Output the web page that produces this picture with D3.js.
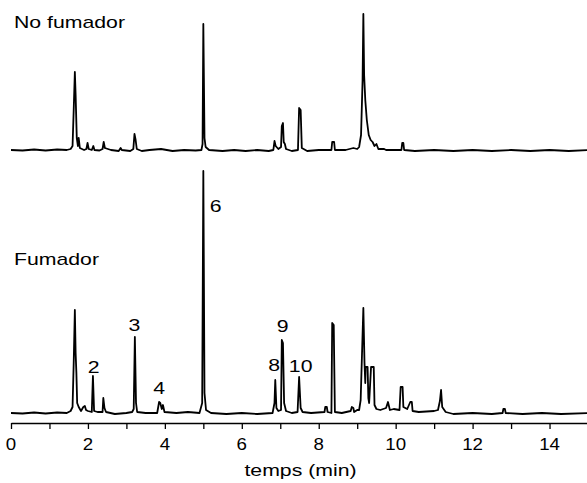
<!DOCTYPE html>
<html>
<head>
<meta charset="utf-8">
<script src="https://cdn.jsdelivr.net/npm/d3@7"></script>
<style>
  html, body { margin: 0; padding: 0; background: #fff; }
  text { font-family: "Liberation Sans", Arial, sans-serif; fill: #000; }
</style>
</head>
<body>
<svg id="chart" width="587" height="483"></svg>
<script>
// Time (min) and detector response (arbitrary units)
const noFumadorTrace = [
  [0,0],[0.3,-0.5],[0.6,0.5],[0.9,-0.5],[1.2,0.5],[1.45,0],[1.55,1],[1.6,4],[1.63,40],[1.66,78],[1.68,55],
  [1.71,12],[1.74,4],[1.76,12],[1.79,2],[1.9,0],[1.96,1],[1.99,7],[2.02,1],[2.1,0],[2.14,4],[2.17,0],
  [2.3,-0.5],[2.38,1],[2.41,8],[2.44,2],[2.6,0],[2.8,-1],[2.85,2],[2.88,0],[3.1,-1],[3.18,1],[3.21,16],
  [3.24,10],[3.27,1],[3.4,-1],[3.6,0],[3.9,1],[4.2,-1],[4.5,0],[4.8,-0.5],[4.95,0],[4.98,6],[5.0,126],
  [5.03,12],[5.06,3],[5.15,0],[5.5,-1],[5.8,0],[6.1,-1],[6.4,0],[6.7,-1],[6.82,0],[6.85,9],[6.88,4],
  [6.95,1],[7.02,3],[7.04,24],[7.07,27],[7.09,8],[7.12,6],[7.15,1],[7.3,-1],[7.46,0],[7.49,42],[7.53,40],
  [7.56,2],[7.7,-1],[8.0,0],[8.33,0],[8.35,8],[8.4,8],[8.42,0],[8.7,0],[8.9,2],[9.0,1],[9.05,3],[9.1,15],
  [9.14,70],[9.16,136],[9.18,75],[9.21,50],[9.25,30],[9.3,15],[9.35,10],[9.4,8],[9.45,4],[9.5,6],[9.55,1],
  [9.7,1],[9.75,0],[10.0,0],[10.15,0],[10.17,7],[10.2,7],[10.22,0],[10.5,-1],[11,0],[11.5,-1],[12,0],
  [12.5,-1],[13,0],[13.5,-1],[14,0],[14.5,-1],[15,0]
];

const fumadorTrace = [
  [0,0],[0.3,-0.5],[0.6,0.5],[0.9,-0.5],[1.2,0.5],[1.45,0],[1.55,2],[1.6,6],[1.63,50],[1.66,103],[1.68,60],
  [1.7,40],[1.72,10],[1.76,6],[1.82,2],[1.88,6],[1.92,7],[1.95,3],[2.0,2],[2.1,1],[2.13,37],[2.16,2],
  [2.25,1],[2.38,1],[2.4,15],[2.43,5],[2.47,1],[2.7,-1],[3.0,0],[3.15,1],[3.19,4],[3.22,76],[3.25,10],
  [3.28,1],[3.5,0],[3.8,0],[3.85,11],[3.88,10],[3.92,4],[3.95,8],[3.99,1],[4.3,0],[4.6,1],[4.9,0],
  [4.97,10],[5.0,242],[5.03,20],[5.07,3],[5.2,0],[5.6,-1],[6.0,0],[6.4,-1],[6.8,0],[6.85,10],[6.87,33],
  [6.9,5],[6.95,2],[7.02,3],[7.04,73],[7.07,70],[7.1,10],[7.15,2],[7.3,0],[7.45,1],[7.49,36],[7.53,5],
  [7.58,1],[7.8,0],[8.15,1],[8.17,6],[8.21,6],[8.23,1],[8.33,0],[8.35,90],[8.39,88],[8.42,1],[8.6,0],
  [8.83,2],[8.86,6],[8.9,5],[8.92,1],[9.0,3],[9.05,3],[9.09,13],[9.16,105],[9.19,50],[9.21,30],[9.22,46],
  [9.27,46],[9.29,15],[9.31,10],[9.36,46],[9.43,46],[9.45,8],[9.5,4],[9.6,3],[9.75,5],[9.8,11],[9.85,3],
  [9.95,4],[10.1,3],[10.13,26],[10.18,26],[10.2,6],[10.3,4],[10.38,11],[10.42,11],[10.44,2],[10.6,1],
  [11.0,2],[11.1,3],[11.15,12],[11.18,23],[11.21,6],[11.3,1],[11.5,-1],[12,0],[12.5,-1],[12.78,0],
  [12.8,4],[12.84,4],[12.86,0],[13.3,-1],[13.8,0],[14.3,-1],[15,0]
];

// Peak labels on the smoker trace: label, anchor time, anchor response (label baseline)
const peakLabels = ["2", "3", "4", "6", "8", "9", "10"];
const peakLabelTimes = [2.15, 3.21, 3.85, 5.32, 6.84, 7.06, 7.53];
const peakLabelLevels = [40.5, 82.3, 19, 201.3, 42.3, 81.3, 41.3];

const panelTitles = ["No fumador", "Fumador"];
const xTickValues = [0,1,2,3,4,5,6,7,8,9,10,11,12,13,14];
const xTickLabels = ["0","","2","","4","","6","","8","","10","","12","","14"];
const xAxisTitle = "temps (min)";

const svg = d3.select("#chart");
const W = 587, H = 483;
svg.append("rect").attr("width", W).attr("height", H).attr("fill", "#fff");

const x = d3.scaleLinear().domain([0, 15]).range([11, 588]);
const yTop = d3.scaleLinear().domain([0, 250]).range([150, -100]);
const yBot = d3.scaleLinear().domain([0, 250]).range([413, 163]);

const lineTop = d3.line().x(d => x(d[0])).y(d => yTop(d[1]));
const lineBot = d3.line().x(d => x(d[0])).y(d => yBot(d[1]));

svg.append("path").datum(noFumadorTrace).attr("d", lineTop)
  .attr("fill", "none").attr("stroke", "#000").attr("stroke-width", 1.8).attr("stroke-linejoin", "round");
svg.append("path").datum(fumadorTrace).attr("d", lineBot)
  .attr("fill", "none").attr("stroke", "#000").attr("stroke-width", 1.8).attr("stroke-linejoin", "round");

const SX = 1.25;
function stretchedText(tx, ty, str, size, anchor, sx) {
  svg.append("g").attr("transform", `translate(${tx},${ty}) scale(${sx},1)`)
    .append("text").attr("x", 0).attr("y", 0)
    .attr("font-size", size).attr("text-anchor", anchor).text(str);
}

stretchedText(14, 28, panelTitles[0], 17, "start", SX);
stretchedText(14, 265, panelTitles[1], 17, "start", SX);

// peak numbers
peakLabels.forEach((lab, i) => {
  stretchedText(x(peakLabelTimes[i]), yBot(peakLabelLevels[i]), lab, 17, "middle", SX);
});

// x axis
const axis = d3.axisBottom(x)
  .tickValues(xTickValues)
  .tickSize(6)
  .tickSizeOuter(0)
  .tickFormat((d, i) => xTickLabels[i]);
const gAxis = svg.append("g").attr("transform", "translate(0,423)").call(axis);
gAxis.select(".domain").attr("stroke", "#000").attr("stroke-width", 1.5);
gAxis.selectAll(".tick line").attr("stroke", "#000").attr("stroke-width", 1.3);
gAxis.selectAll(".tick text").remove();
xTickValues.forEach((v, i) => {
  if (xTickLabels[i]) stretchedText(x(v), 450, xTickLabels[i], 17, "middle", 1.1);
});

stretchedText(300.5, 476, xAxisTitle, 17, "middle", SX);
</script>
</body>
</html>
